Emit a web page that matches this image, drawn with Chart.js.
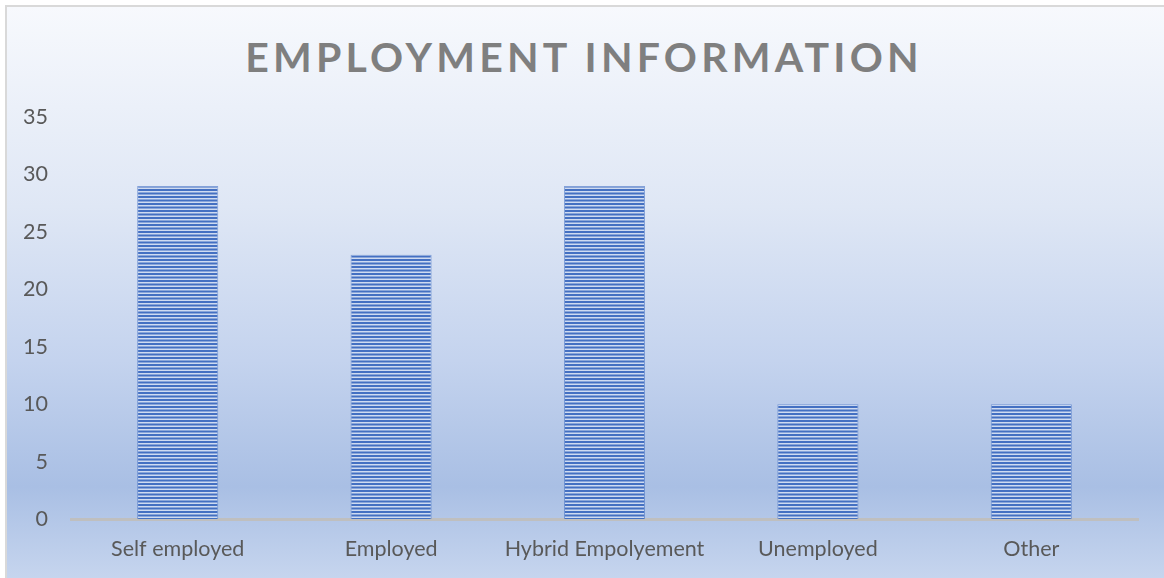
<!DOCTYPE html>
<html>
<head>
<meta charset="utf-8">
<script src="https://cdn.jsdelivr.net/npm/chart.js@4/dist/chart.umd.min.js"></script>
<style>
  html, body { margin: 0; padding: 0; background: #ffffff; width: 1164px; height: 578px; overflow: hidden; }
  #frame {
    position: absolute; left: 5px; top: 5px; right: 0; bottom: 0;
    border-left: 2px solid #d9d9d9; border-top: 2px solid #d9d9d9;
    background: linear-gradient(to bottom, #f7f9fd 0%, #dfe7f5 35%, #c4d3ee 62%, #a9bfe4 84%, #c6d5ee 100%);
  }
  #title {
    position: absolute; left: 0; top: 31px; width: 1164px; text-align: center;
    font-family: Lato, "Open Sans", sans-serif; font-weight: bold; font-size: 41px;
    letter-spacing: 4.2px; padding-left: 4px; box-sizing: border-box;
    color: #7f7f7f; margin: 0; line-height: 52px;
  }
  #wrap { position: absolute; left: 0; top: 0; width: 1164px; height: 578px; }
</style>
</head>
<body>
<div id="frame"></div>
<div id="title">EMPLOYMENT INFORMATION</div>
<div id="wrap"><canvas id="chart" width="1164" height="578"></canvas></div>
<script>
// Categories and counts
const categories = ["Self employed", "Employed", "Hybrid Empolyement", "Unemployed", "Other"];
const counts = [29, 23, 29, 10, 10];
const yTicks = [0, 5, 10, 15, 20, 25, 30, 35];

// Narrow horizontal stripe fill for the bars
function stripeFill() {
  const c = document.createElement("canvas");
  c.width = 4; c.height = 7;
  const g = c.getContext("2d");
  g.fillStyle = "#cfdbf1";
  g.fillRect(0, 0, 4, 7);
  g.fillStyle = "#4470c2";
  g.fillRect(0, 0, 4, 2);
  g.fillRect(0, 3.5, 4, 2);
  return document.getElementById("chart").getContext("2d").createPattern(c, "repeat");
}

const tickFont = { family: "Lato, 'Open Sans', sans-serif", size: 21.5 };

new Chart(document.getElementById("chart"), {
  type: "bar",
  data: {
    labels: categories,
    datasets: [{
      data: counts,
      backgroundColor: stripeFill(),
      borderColor: "rgba(68,114,196,0.6)",
      borderWidth: 1,
      barPercentage: 0.38,
      categoryPercentage: 1.0
    }]
  },
  options: {
    responsive: false,
    animation: false,
    layout: { padding: { top: 117, right: 26, left: 0, bottom: 0 } },
    plugins: { legend: { display: false }, tooltip: { enabled: false }, title: { display: false } },
    scales: {
      x: {
        grid: { display: false, drawTicks: false },
        border: { display: true, color: "#bfbfbf", width: 3 },
        ticks: { color: "#595959", font: tickFont, padding: 17, maxRotation: 0 },
        afterFit: s => { s.height = 578 - 519; }
      },
      y: {
        min: 0, max: 35,
        grid: { display: false, drawTicks: false },
        border: { display: false },
        afterBuildTicks: s => { s.ticks = yTicks.map(v => ({ value: v })); },
        ticks: { color: "#595959", font: tickFont, padding: 23 },
        afterFit: s => { s.width = 71; }
      }
    }
  }
});
</script>
</body>
</html>
